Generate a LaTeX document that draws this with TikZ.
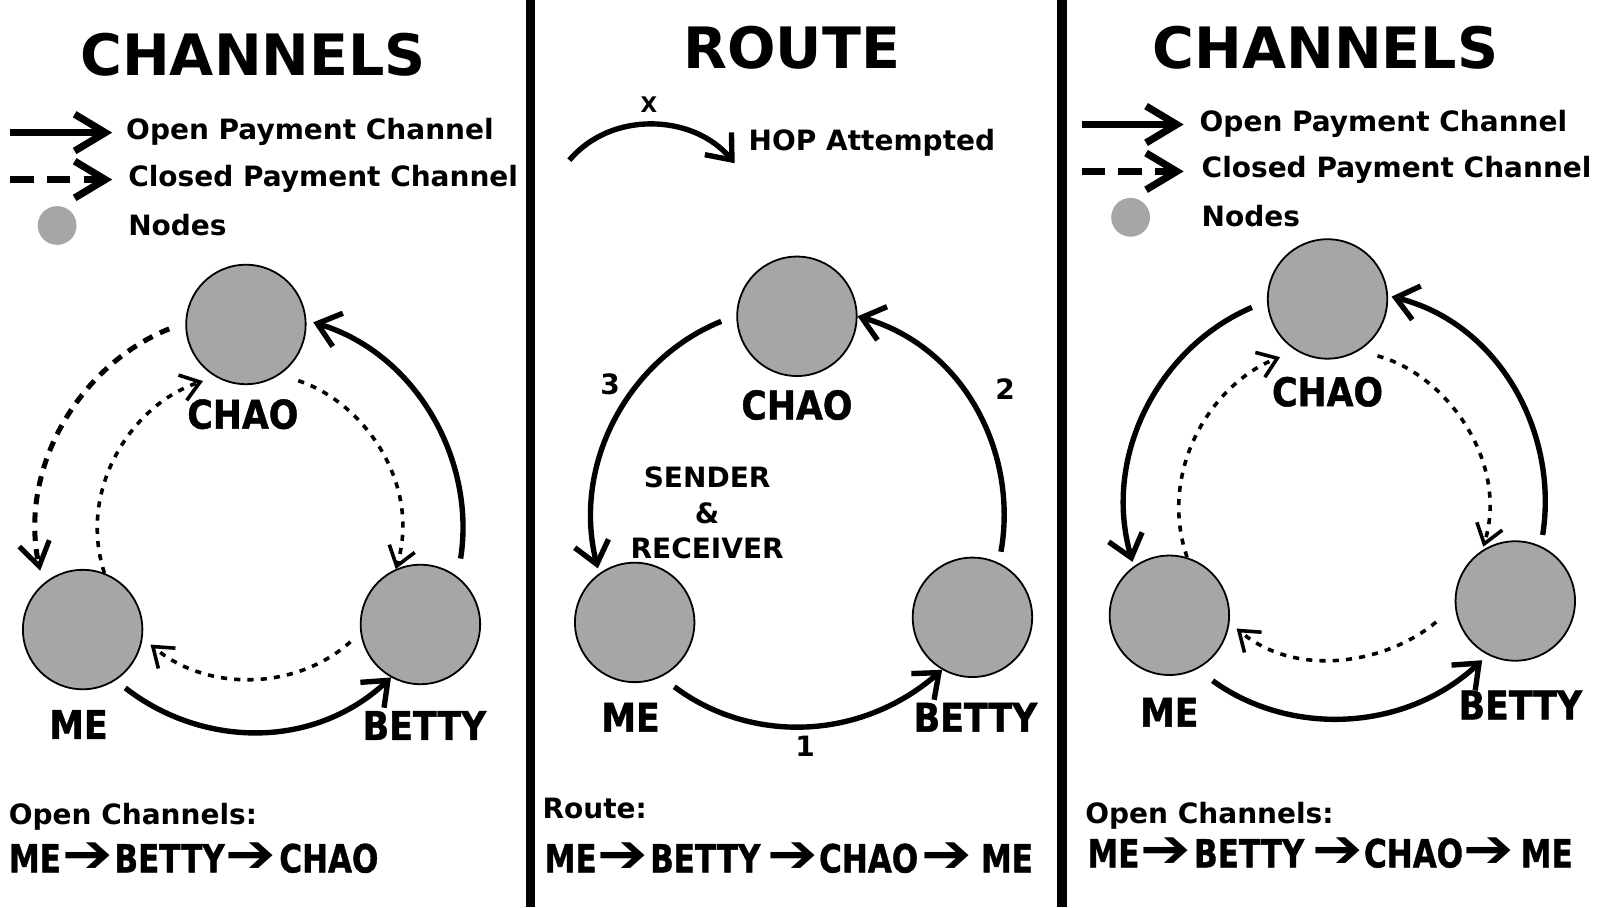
\documentclass[tikz,border=0pt]{standalone}
\usepackage{fontspec}
\setmainfont{DejaVu Sans}
\newfontfamily\heavyfont{DejaVu Sans Bold}[FakeBold=1.2]
\usepackage{graphicx}
\usetikzlibrary{arrows.meta}
\definecolor{nodegray}{RGB}{166,166,166}
\newcommand{\peerword}[1]{\scalebox{0.88}[1]{#1}}
\newcommand{\pathword}[1]{\scalebox{0.8}[1]{#1}}
\newcommand{\hoparrow}{\smash{\scalebox{1.12}[1]{\normalfont\fontsize{15}{16}\selectfont ➔}}}

\tikzset{
  peer/.style={circle, draw=black, line width=0.5pt, fill=nodegray, minimum size=11.7mm, inner sep=0pt},
  legdot/.style={circle, fill=nodegray, minimum size=3.8mm, inner sep=0pt},
  paneltitle/.style={inner sep=0pt, font=\bfseries\fontsize{15.9}{18}\selectfont},
  legtext/.style={anchor=base west, inner sep=0pt, font=\bfseries\fontsize{7.8}{9}\selectfont},
  peerlabel/.style={inner sep=0pt, font=\heavyfont\fontsize{11}{13}\selectfont},
  smalllabel/.style={inner sep=0pt, font=\bfseries\fontsize{7.8}{9}\selectfont},
  pathtext/.style={anchor=base west, inner sep=0pt, font=\heavyfont\fontsize{10.8}{12}\selectfont},
  openline/.style={line width=1.5pt, -{Straight Barb[length=2.1mm, width=3.4mm]}},
  closedline/.style={line width=1.4pt, dash pattern=on 1mm off 0.8mm, -{Straight Barb[length=2.3mm, width=3mm]}},
  closedthin/.style={line width=1pt, dash pattern=on 0.6mm off 0.7mm, -{Straight Barb[length=1.8mm, width=2.6mm]}},
  legopen/.style={line width=2pt, -{Straight Barb[length=3mm, width=3.6mm]}},
  legclosed/.style={line width=2pt, dash pattern=on 2.3mm off 1.3mm, -{Straight Barb[length=3mm, width=3.6mm]}},
}

\begin{document}
\begin{tikzpicture}[x=0.01cm, y=0.01cm, >=Stealth]
  \useasboundingbox (0,0) rectangle (1568,889);

  % Panel separators
  \fill[black] (515,0) rectangle (524,889);
  \fill[black] (1036,0) rectangle (1046,889);

  % ---------- Left panel: channels ----------
  \node[paneltitle] (title1) at (248,835) {CHANNELS};

  % Legend
  \coordinate (legA1) at (10,759);
  \coordinate (legB1) at (110,759);
  \coordinate (legC1) at (10,713);
  \coordinate (legD1) at (110,713);
  \draw[legopen] (legA1) -- (legB1);
  \draw[legclosed] (legC1) -- (legD1);
  \node[legtext] (legopen1) at (123,752) {Open Payment Channel};
  \node[legtext] (legclosed1) at (125,706) {Closed Payment Channel};
  \node[legdot] (dot1) at (56,668) {};
  \node[legtext] (legnodes1) at (125,658) {Nodes};

  % Peers
  \node[peer] (chao1) at (241,571) {};
  \node[peer] (me1) at (81,272) {};
  \node[peer] (betty1) at (412,277) {};
  \node[peerlabel] (chaoname1) at (238,483) {\peerword{CHAO}};
  \node[peerlabel] (mename1) at (77,179) {\peerword{ME}};
  \node[peerlabel] (bettyname1) at (416,178) {\peerword{BETTY}};

  % Open channels
  \draw[openline, shorten <=1.8mm, shorten >=0.7mm] (betty1.52) to[out=81, in=-17] (chao1.4);
  \draw[openline, shorten <=1.2mm] (me1.-57) to[out=-38, in=-137] (betty1.-119);

  % Closed channels
  \draw[closedline, shorten <=1.7mm, shorten >=1.3mm] (chao1.178) to[out=202, in=102] (me1.131);
  \draw[closedthin, shorten >=1.3mm] (me1.69) to[out=108, in=198] (chao1.240);
  \draw[closedthin, shorten <=1.9mm] (chao1.-56) to[out=-18, in=73] (betty1.114);
  \draw[closedthin, shorten <=1.3mm, shorten >=1mm] (betty1.188) to[out=-138, in=-40] (me1.-8);

  % Summary
  \node[legtext] (sumhead1) at (8,81) {Open Channels:};
  \node[pathtext] (sumpath1) at (8,34) {\pathword{ME}\hspace{0.2mm}\hoparrow\hspace{0.1mm}\pathword{BETTY}\hspace{0.1mm}\hoparrow\hspace{0.3mm}\pathword{CHAO}};

  % ---------- Middle panel: route ----------
  \node[paneltitle] (title2) at (776,842) {ROUTE};

  % Legend
  \coordinate (hopA) at (558,732);
  \coordinate (hopB) at (720,729);
  \draw[openline] (hopA) to[out=50, in=130] (hopB);
  \node[smalllabel, font=\bfseries\fontsize{6}{7}\selectfont] (hopx) at (636,786) {X};
  \node[legtext] (hoptext) at (733,741) {HOP Attempted};

  % Peers
  \node[peer] (chao2) at (781,579) {};
  \node[peer] (me2) at (622,279) {};
  \node[peer] (betty2) at (953,284) {};
  \node[peerlabel] (chaoname2) at (781,492) {\peerword{CHAO}};
  \node[peerlabel] (mename2) at (618,186) {\peerword{ME}};
  \node[peerlabel] (bettyname2) at (956,186) {\peerword{BETTY}};
  \node[smalllabel] (sender) at (693,421) {SENDER};
  \node[smalllabel] (amp) at (693,386) {\&};
  \node[smalllabel] (receiver) at (693,352) {RECEIVER};

  % Hops
  \draw[openline, shorten <=1.6mm] (me2.-64) to[out=-37, in=-139] (betty2.-120);
  \draw[openline, shorten <=1.1mm] (betty2.64) to[out=80, in=-16] (chao2.0);
  \draw[openline, shorten <=1.6mm, shorten >=0.5mm] (chao2.179) to[out=202, in=104] (me2.126);
  \node[smalllabel] (hop1) at (789,158) {1};
  \node[smalllabel] (hop2) at (985,508) {2};
  \node[smalllabel] (hop3) at (598,512) {3};

  % Summary
  \node[legtext] (sumhead2) at (531,87) {Route:};
  \node[pathtext] (sumpath2) at (533,34) {\pathword{ME}\hspace{0.1mm}\hoparrow\hspace{0.2mm}\pathword{BETTY}\hspace{0.7mm}\hoparrow\hspace{0.1mm}\pathword{CHAO}\hspace{0.3mm}\hoparrow\hspace{0.9mm}\pathword{ME}};

  % ---------- Right panel: channels ----------
  \node[paneltitle] (title3) at (1299,842) {CHANNELS};

  % Legend
  \coordinate (legA3) at (1060,767);
  \coordinate (legB3) at (1160,767);
  \coordinate (legC3) at (1060,721);
  \coordinate (legD3) at (1160,721);
  \draw[legopen] (legA3) -- (legB3);
  \draw[legclosed] (legC3) -- (legD3);
  \node[legtext] (legopen3) at (1175,760) {Open Payment Channel};
  \node[legtext] (legclosed3) at (1177,715) {Closed Payment Channel};
  \node[legdot] (dot3) at (1108,676) {};
  \node[legtext] (legnodes3) at (1177,667) {Nodes};

  % Peers
  \node[peer] (chao3) at (1301,596) {};
  \node[peer] (me3) at (1146,286) {};
  \node[peer] (betty3) at (1485,300) {};
  \node[peerlabel] (chaoname3) at (1301,505) {\peerword{CHAO}};
  \node[peerlabel] (mename3) at (1146,191) {\peerword{ME}};
  \node[peerlabel] (bettyname3) at (1490,198) {\peerword{BETTY}};

  % Open channels
  \draw[openline, shorten <=1.6mm, shorten >=0.45mm] (chao3.182) to[out=203, in=106] (me3.126);
  \draw[openline, shorten <=1.1mm, shorten >=0.35mm] (betty3.65) to[out=81, in=-14] (chao3.3);
  \draw[openline, shorten <=1.9mm, shorten >=0.75mm] (me3.-63) to[out=-36, in=-137] (betty3.-117);

  % Closed channels
  \draw[closedthin, shorten >=1.7mm] (me3.73) to[out=109, in=201] (chao3.239);
  \draw[closedthin, shorten <=1.9mm, shorten >=0.35mm] (chao3.-59) to[out=-15, in=73] (betty3.123);
  \draw[closedthin, shorten <=2.4mm, shorten >=0.9mm] (betty3.185) to[out=-140, in=-40] (me3.-7);

  % Summary
  \node[legtext] (sumhead3) at (1063,82) {Open Channels:};
  \node[pathtext] (sumpath3) at (1065,39) {\pathword{ME}\hspace{0.1mm}\hoparrow\hspace{0.3mm}\pathword{BETTY}\hspace{0.8mm}\hoparrow\hspace{0.1mm}\pathword{CHAO}\hoparrow\hspace{0.7mm}\pathword{ME}};
\end{tikzpicture}
\end{document}
